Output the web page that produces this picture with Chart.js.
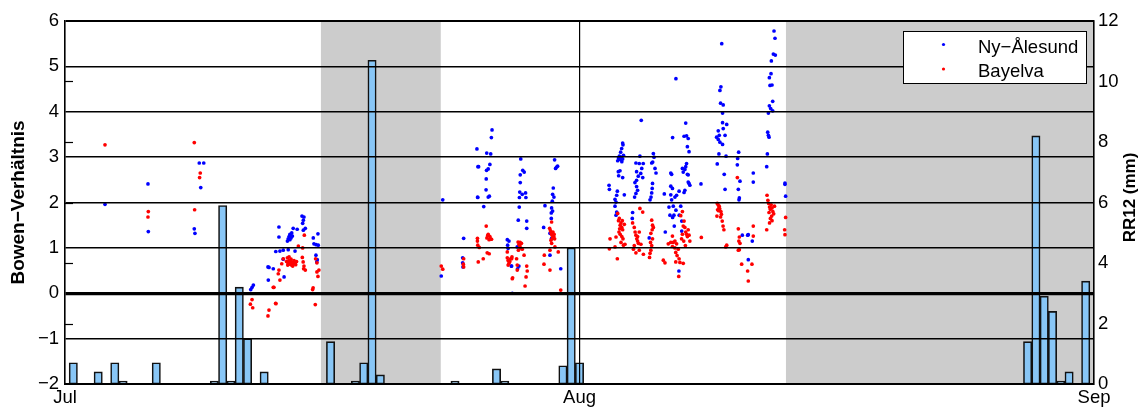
<!DOCTYPE html>
<html>
<head>
<meta charset="utf-8">
<script src="https://cdn.jsdelivr.net/npm/chart.js@4.4.1/dist/chart.umd.min.js"></script>
<style>
  html, body { margin: 0; padding: 0; background: #ffffff; }
  #wrap { width: 1148px; height: 410px; position: relative; }
</style>
</head>
<body>
<div id="wrap"><canvas id="chart"></canvas></div>
<script>
// Time axis: days since 1 July 00:00
const monthTicks = [0, 31, 62];
const monthLabels = ['Jul', 'Aug', 'Sep'];

// Left axis (Bowen ratio) and right axis (12-hour precipitation) ranges
const bowenRange = [-2, 6];
const rr12Range = [0, 12];

// Periods shaded grey (start day, end day)
const shadedSpans = [[15.42, 22.64], [43.44, 62]];

// 12-hour precipitation sums, Ny-Ålesund
const rr12Day = [0.5, 2.0, 3.0, 3.5, 5.5, 9.0, 9.5, 10.0, 10.5, 11.0, 12.0,
                 16.0, 17.5, 18.0, 18.5, 19.0, 23.5, 26.0, 26.5, 30.0, 30.5, 31.0,
                 58.0, 58.5, 59.0, 59.5, 60.0, 60.5, 61.5];
const rr12Mm = [0.7, 0.4, 0.7, 0.1, 0.7, 0.1, 5.9, 0.1, 3.2, 1.5, 0.4,
                1.4, 0.1, 0.7, 10.7, 0.3, 0.1, 0.5, 0.1, 0.6, 4.5, 0.7,
                1.4, 8.2, 2.9, 2.4, 0.1, 0.4, 3.4];

// Bowen ratio, Ny-Ålesund station: [day, ratio]
const nyAlesund = [
  [2.41,1.96],[5.00,2.41],[5.02,1.36],[7.79,1.42],[7.83,1.32],[8.09,2.87],[8.36,2.87],[8.18,2.33],
  [11.19,0.08],[11.27,0.13],[11.35,0.18],
  [12.23,0.58],[12.25,0.29],[12.29,0.57],[12.55,0.54],[12.70,0.92],[12.89,1.46],[12.89,1.24],[12.95,0.93],[13.15,0.95],[13.15,0.75],[13.20,0.36],
  [13.40,1.15],[13.45,0.96],[13.45,1.20],[13.50,1.25],[13.55,1.18],[13.55,1.30],[13.60,1.28],[13.62,1.22],[13.66,1.33],[13.70,1.26],[13.75,1.43],[13.86,0.93],[13.99,1.41],
  [14.28,1.70],[14.32,1.54],[14.36,1.61],[14.36,1.39],[14.40,1.68],[14.48,1.43],
  [14.96,1.22],[15.00,1.09],[15.12,0.84],[15.13,1.07],[15.17,0.69],[15.24,1.31],[15.26,1.06],[15.20,0.74],
  [22.67,0.38],[22.76,2.06],
  [23.96,0.78],[23.96,0.67],[23.98,0.58],[24.02,1.21],
  [24.82,3.18],[24.86,2.12],[24.87,2.11],[24.88,2.79],[24.92,2.79],
  [25.23,1.91],[25.37,2.28],[25.38,2.52],[25.40,2.71],[25.41,3.09],[25.50,2.74],[25.50,2.12],[25.57,2.14],[25.60,2.84],[25.65,3.07],[25.69,3.43],[25.73,3.60],
  [26.65,1.18],[26.67,1.06],[26.70,0.99],[26.75,1.15],[26.89,0.60],[26.91,0.60],[26.95,0.00],
  [27.25,1.02],[27.27,0.54],[27.31,1.61],[27.35,0.60],[27.37,1.90],[27.38,2.11],[27.40,2.23],[27.43,2.61],[27.43,2.44],[27.46,2.96],[27.55,2.18],[27.58,2.71],[27.67,2.67],[27.75,2.21],[27.77,2.11],[27.82,1.59],[27.82,1.43],
  [28.84,1.45],[28.92,1.93],[29.22,1.32],[29.22,0.84],[29.30,1.77],[29.30,1.65],[29.32,1.88],[29.32,1.21],[29.36,2.03],[29.38,2.18],[29.38,1.81],[29.42,2.32],[29.46,2.12],[29.50,2.94],[29.56,2.75],[29.62,2.78],[29.68,2.80],[29.87,0.54],
  [32.78,2.38],[32.80,2.29],[33.14,2.07],[33.14,1.92],[33.20,2.01],[33.20,1.72],[33.24,2.16],[33.24,1.79],[33.28,2.25],[33.70,2.17],
  [33.34,2.68],[33.36,2.59],[33.44,2.70],[33.60,2.55],
  [33.30,2.92],[33.35,2.98],[33.40,3.02],[33.45,2.95],[33.48,3.11],[33.50,3.00],[33.54,3.19],[33.55,2.90],[33.60,2.96],[33.60,3.31],[33.62,3.27],[33.65,3.04],
  [34.18,1.65],[34.20,1.78],[34.32,2.12],[34.34,2.44],[34.40,2.20],[34.40,2.87],[34.44,2.35],[34.44,2.68],[34.44,2.49],[34.50,2.27],[34.54,2.58],[34.60,2.86],[34.64,3.02],[34.69,2.64],[34.72,3.81],[34.75,2.75],[34.81,2.55],[34.84,2.86],
  [35.20,1.22],[35.25,2.06],[35.31,2.12],[35.35,2.21],[35.35,2.87],[35.38,2.31],[35.40,2.42],[35.41,2.89],[35.45,3.08],[35.49,3.00],[35.55,2.75],[35.61,2.65],
  [36.11,2.19],[36.17,1.35],
  [36.39,1.90],[36.45,1.72],[36.50,2.65],[36.50,2.36],[36.50,2.17],[36.55,2.62],[36.55,2.06],[36.60,2.31],[36.61,1.67],[36.61,3.43],[36.65,1.92],[36.69,1.72],[36.71,1.48],[36.75,2.12],[36.81,1.83],[36.81,4.73],[36.85,2.16],[36.99,0.49],[37.00,2.25],[37.01,1.72],[37.10,1.92],[37.16,1.59],[37.16,1.37],[37.20,2.75],[37.25,2.67],
  [37.30,3.46],[37.30,2.22],[37.35,2.73],[37.35,2.27],[37.40,3.75],[37.40,2.79],[37.45,3.47],[37.45,2.86],[37.50,3.23],[37.50,2.62],[37.55,3.41],[37.55,2.61],[37.55,2.45],[37.60,3.12],[37.60,2.42],[37.65,2.38],
  [38.32,2.41],
  [39.26,3.44],[39.30,2.85],[39.36,3.58],[39.36,3.39],[39.40,3.07],[39.42,3.48],[39.46,4.47],[39.46,3.33],[39.50,4.19],[39.52,4.55],[39.57,5.50],[39.62,3.97],[39.62,3.76],[39.62,3.28],[39.66,4.15],[39.66,3.63],[39.72,2.62],[39.77,3.48],[39.77,2.29],[39.83,3.02],[39.87,3.72],
  [40.51,2.83],[40.53,2.97],[40.57,2.29],[40.59,3.11],[40.61,2.06],[40.63,2.10],[40.67,2.47],[40.81,1.28],[41.13,1.28],[41.17,1.29],[41.17,0.74],[41.41,1.15],[41.47,2.65],[41.47,2.45],
  [42.28,2.79],[42.32,3.07],[42.34,3.55],[42.38,3.48],[42.38,3.97],[42.42,3.44],[42.44,4.75],[42.44,4.13],[42.48,4.58],[42.52,4.07],[42.54,4.84],[42.56,5.12],[42.60,4.59],[42.64,4.23],[42.64,4.02],[42.68,5.27],[42.72,5.78],[42.78,5.62],[42.80,5.25],
  [43.38,2.43],[43.38,2.40],[43.42,2.14]
];

// Bowen ratio, Bayelva station: [day, ratio]
const bayelva = [
  [2.41,3.27],[5.00,1.68],[5.02,1.80],[7.79,3.32],[7.81,1.84],[8.11,2.55],[8.15,2.65],
  [11.17,-0.24],[11.27,-0.14],[11.31,-0.32],[12.23,-0.50],[12.29,-0.37],[12.55,0.13],[12.59,0.13],[12.69,-0.22],[12.71,-0.23],[12.85,0.43],[12.89,0.51],[12.95,0.29],[13.06,0.65],[13.15,0.76],
  [13.35,0.70],[13.40,0.78],[13.42,0.62],[13.45,0.66],[13.50,0.72],[13.50,0.80],[13.55,0.64],[13.60,0.70],[13.62,0.75],[13.65,0.62],[13.70,0.68],[13.72,0.60],[13.75,0.65],[13.80,0.72],[13.85,0.66],[13.90,0.63],[13.95,0.70],
  [14.06,1.04],[14.30,0.79],[14.32,1.00],[14.35,0.69],[14.38,0.54],[14.40,0.60],[14.42,1.28],[14.48,0.51],
  [14.92,0.08],[14.95,0.12],[15.08,-0.25],[15.10,0.76],[15.18,0.67],[15.18,0.47],[15.24,0.37],[15.30,0.51],
  [22.67,0.60],[22.76,0.53],[24.00,0.64],[24.02,0.76],[24.02,0.58],
  [24.85,1.21],[24.85,1.15],[24.87,1.06],[24.90,0.69],[24.96,1.01],[25.20,0.76],[25.38,1.48],[25.42,1.22],[25.44,0.89],[25.47,1.27],[25.50,1.30],[25.55,1.18],[25.56,0.87],[25.60,1.25],[25.65,1.20],[25.70,1.19],
  [26.65,0.91],[26.65,0.78],[26.70,0.72],[26.70,0.62],[26.75,0.66],[26.80,0.70],[26.85,0.76],[26.91,0.76],[26.93,0.80],[26.95,0.32],[26.97,0.34],
  [27.21,0.76],[27.25,0.62],[27.25,0.51],[27.30,1.13],[27.32,0.95],[27.35,1.08],[27.40,1.05],[27.42,1.12],[27.45,1.00],[27.50,1.10],[27.55,0.97],[27.66,0.84],[27.72,0.16],[27.78,0.36],[27.82,0.60],[27.85,0.49],
  [28.86,0.64],[28.88,0.84],[29.20,1.43],[29.22,0.95],[29.22,0.51],[29.25,1.38],[29.28,1.17],[29.30,1.32],[29.32,1.57],[29.32,1.10],[29.35,1.28],[29.38,1.22],[29.40,1.35],[29.45,1.25],[29.47,1.30],[29.50,1.20],[29.52,1.02],[29.72,0.91],[29.87,0.07],
  [32.80,0.98],[32.84,1.20],[33.14,1.02],[33.20,1.24],[33.28,0.76],
  [33.30,1.76],[33.35,1.60],[33.38,1.35],[33.40,1.65],[33.42,1.42],[33.45,1.50],[33.45,1.30],[33.50,1.55],[33.50,1.12],[33.55,1.45],[33.55,1.25],[33.58,1.60],[33.60,1.40],[33.62,1.20],[33.65,1.06],[33.70,1.52],[33.74,1.08],
  [34.20,1.55],[34.25,0.97],[34.30,1.45],[34.30,1.05],[34.35,1.35],[34.40,1.28],[34.40,0.89],[34.45,1.20],[34.50,1.15],[34.50,1.25],[34.55,1.10],[34.60,0.95],[34.60,1.35],[34.64,1.87],[34.70,1.08],[34.81,1.79],[34.85,0.86],
  [35.22,0.79],[35.25,0.88],[35.28,1.12],[35.30,1.32],[35.30,0.95],[35.35,1.61],[35.35,1.05],[35.38,1.40],[35.40,1.50],[35.40,1.20],[35.45,1.45],
  [36.05,0.73],[36.15,0.67],
  [36.35,1.09],[36.50,1.12],[36.60,1.26],[36.60,1.03],[36.65,1.12],[36.75,1.15],[36.75,1.00],[36.80,0.90],[36.80,0.69],[36.85,1.09],[36.88,0.83],[36.95,0.97],[36.98,0.37],[37.00,0.76],[37.05,0.68],[37.10,1.71],[37.15,1.20],[37.20,1.30],[37.25,1.48],[37.30,1.59],
  [37.20,1.80],[37.25,0.66],[37.28,1.15],[37.35,1.45],[37.38,1.05],[37.40,1.35],[37.45,1.30],[37.50,1.25],[37.55,1.40],[37.60,1.28],[37.65,1.15],
  [38.34,1.23],
  [39.28,1.70],[39.30,1.98],[39.32,1.84],[39.35,1.95],[39.38,1.82],[39.40,1.88],[39.42,1.92],[39.45,1.86],[39.50,1.68],[39.52,1.80],[39.55,1.74],[39.60,1.59],[39.65,1.48],[39.70,1.40],[39.81,1.02],[39.87,1.06],
  [40.51,2.55],[40.57,1.42],[40.57,0.95],[40.60,1.15],[40.63,1.24],[40.63,0.96],[40.67,1.10],[40.77,0.64],[41.13,0.49],[41.17,0.27],[41.39,0.64],[41.47,1.48],[41.47,1.26],
  [42.28,1.40],[42.30,2.16],[42.35,2.05],[42.40,1.98],[42.42,1.78],[42.45,1.90],[42.45,1.55],[42.50,1.85],[42.50,1.65],[42.55,1.95],[42.58,1.70],[42.60,1.88],[42.60,1.60],[42.65,1.80],[42.70,1.75],[42.75,1.92],
  [43.36,1.40],[43.38,1.29],[43.42,1.67]
];

const FONT = "'Liberation Sans', Arial, Helvetica, sans-serif";
const minus = (v) => (v < 0 ? '\u2212' + Math.abs(v) : String(v));

// Grey periods behind everything, extra tick marks, right title and legend on top
const decorations = {
  id: 'decorations',
  beforeDraw(chart) {
    const { ctx, chartArea: a, scales: { x } } = chart;
    ctx.save();
    ctx.fillStyle = '#cccccc';
    shadedSpans.forEach(([s, e]) => {
      const x0 = x.getPixelForValue(s);
      const x1 = x.getPixelForValue(e);
      ctx.fillRect(x0, a.top, x1 - x0, a.bottom - a.top);
    });
    ctx.restore();
  },
  afterDraw(chart) {
    const { ctx, chartArea: a, scales: { y2 } } = chart;
    ctx.save();
    // precipitation ticks repeated along the left frame
    ctx.strokeStyle = '#000';
    ctx.lineWidth = 1.2;
    y2.ticks.forEach((t) => {
      if (t.value <= rr12Range[0] || t.value >= rr12Range[1]) return;
      const py = Math.round(y2.getPixelForValue(t.value)) + 0.5;
      ctx.beginPath();
      ctx.moveTo(a.left, py);
      ctx.lineTo(a.left + 8, py);
      ctx.stroke();
    });

    // right axis title, reading upwards
    ctx.fillStyle = '#000';
    ctx.font = 'bold 17px ' + FONT;
    ctx.textAlign = 'center';
    ctx.textBaseline = 'middle';
    ctx.translate(1130, (a.top + a.bottom) / 2 - 5);
    ctx.rotate(-Math.PI / 2);
    ctx.fillText('RR12 (mm)', 0, 0);
    ctx.setTransform(1, 0, 0, 1, 0, 0);

    // legend box
    const bx = 903, by = 31, bw = 183, bh = 52;
    ctx.fillStyle = '#ffffff';
    ctx.fillRect(bx, by, bw, bh);
    ctx.strokeStyle = '#000';
    ctx.lineWidth = 1;
    ctx.strokeRect(bx + 0.5, by + 0.5, bw, bh);
    const entries = chart.data.datasets.filter((d) => d.type === 'scatter');
    entries.forEach((d, i) => {
      const cy = by + 13.5 + i * 24.5;
      ctx.fillStyle = d.backgroundColor;
      ctx.beginPath();
      ctx.arc(943.5, cy, 1.6, 0, Math.PI * 2);
      ctx.fill();
      ctx.fillStyle = '#000';
      ctx.font = '18.5px ' + FONT;
      ctx.textAlign = 'left';
      ctx.textBaseline = 'alphabetic';
      ctx.fillText(d.label, 978, cy + 8);
    });
    ctx.restore();
  }
};

const toPoints = (rows) => rows.map(([d, v]) => ({ x: d, y: v }));

new Chart(document.getElementById('chart'), {
  type: 'scatter',
  data: {
    datasets: [
      {
        type: 'scatter',
        label: 'Ny\u2212Ålesund',
        data: toPoints(nyAlesund),
        yAxisID: 'y',
        backgroundColor: '#0000ff',
        pointRadius: 1.85,
        pointBorderWidth: 0,
        order: 2
      },
      {
        type: 'scatter',
        label: 'Bayelva',
        data: toPoints(bayelva),
        yAxisID: 'y',
        backgroundColor: '#ff0000',
        pointRadius: 1.85,
        pointBorderWidth: 0,
        order: 1
      },
      {
        type: 'bar',
        label: 'RR12',
        data: rr12Day.map((d, i) => ({ x: d, y: rr12Mm[i] })),
        yAxisID: 'y2',
        backgroundColor: '#88c6f6',
        borderColor: '#111111',
        borderWidth: 1.6,
        borderSkipped: false,
        barPercentage: 1,
        categoryPercentage: 1,
        order: 3
      }
    ]
  },
  options: {
    responsive: true,
    maintainAspectRatio: false,
    animation: false,
    events: [],
    layout: { padding: { top: 21, left: 0, right: 0, bottom: 0 } },
    plugins: { legend: { display: false }, tooltip: { enabled: false } },
    scales: {
      x: {
        type: 'linear',
        min: monthTicks[0],
        max: monthTicks[monthTicks.length - 1],
        offset: false,
        afterBuildTicks: (s) => { s.ticks = monthTicks.map((v) => ({ value: v })); },
        afterFit: (s) => { s.height = 26; },
        ticks: {
          callback: (v) => monthLabels[monthTicks.indexOf(v)] ?? '',
          font: { family: FONT, size: 18.5 },
          color: '#000',
          padding: 3,
          maxRotation: 0,
          autoSkip: false
        },
        grid: { color: '#000', lineWidth: 1.2, drawTicks: false, offset: false, z: 1 },
        border: { display: true, color: '#000', width: 2, z: 1 }
      },
      y: {
        position: 'left',
        min: bowenRange[0],
        max: bowenRange[1],
        afterFit: (s) => { s.width = 65; },
        ticks: {
          stepSize: 1,
          callback: (v) => minus(v),
          font: { family: FONT, size: 18.5 },
          color: '#000',
          padding: 6
        },
        grid: {
          color: '#000',
          lineWidth: (c) => (c.tick && c.tick.value === 0 ? 3.2 : (c.tick && c.tick.value === bowenRange[1] ? 2 : 1.5)),
          drawTicks: false,
          z: 1
        },
        border: { display: true, color: '#000', width: 1.5, z: 1 },
        title: {
          display: true,
          text: 'Bowen\u2212Verhältnis',
          font: { family: FONT, size: 19, weight: 'bold' },
          color: '#000',
          padding: { top: 7, bottom: 0 }
        }
      },
      y2: {
        position: 'right',
        min: rr12Range[0],
        max: rr12Range[1],
        afterFit: (s) => { s.width = 54; },
        ticks: {
          stepSize: 2,
          font: { family: FONT, size: 18.5 },
          color: '#000',
          padding: 4
        },
        grid: { display: false, drawTicks: false },
        border: { display: true, color: '#000', width: 1.5, z: 1 }
      }
    }
  },
  plugins: [decorations]
});
</script>
</body>
</html>
